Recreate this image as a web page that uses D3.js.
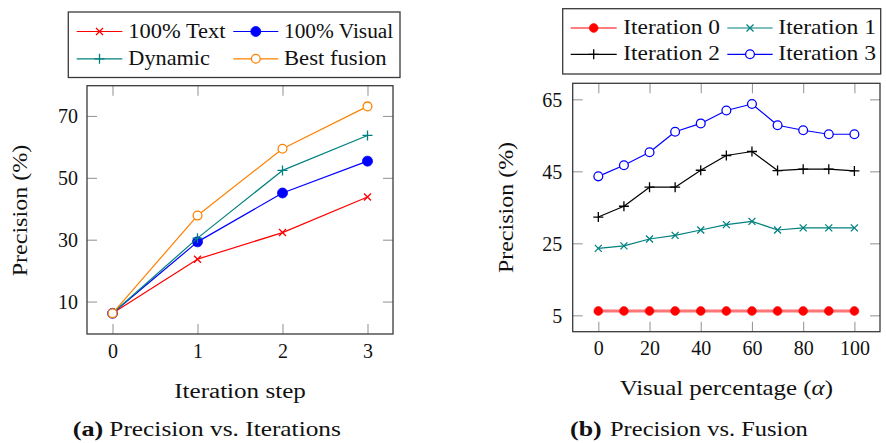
<!DOCTYPE html>
<html>
<head>
<meta charset="utf-8">
<script src="https://cdn.jsdelivr.net/npm/d3@7"></script>
<style>
  html, body { margin: 0; padding: 0; background: #fff; }
  svg { display: block; }
  text { font-family: "Liberation Serif", "Times New Roman", serif; fill: #111; }
</style>
</head>
<body>
<svg id="chart" width="886" height="443"></svg>
<script>
// ---------- DATA ----------
// (a) Precision vs. Iterations
const iterSteps = [0, 1, 2, 3];
const textOnly = [6.2, 23.7, 32.3, 43.8];
const visualOnly = [6.2, 29.3, 45.1, 55.4];
const dynamicFusion = [6.2, 30.5, 52.4, 63.7];
const bestFusion = [6.2, 37.8, 59.4, 73.1];
const leftXTicks = [0, 1, 2, 3];
const leftYTicks = [10, 30, 50, 70];
const leftSeriesNames = ["100% Text", "100% Visual", "Dynamic", "Best fusion"];

// (b) Precision vs. Fusion
const alphas = [0, 10, 20, 30, 40, 50, 60, 70, 80, 90, 100];
const iteration0 = [6.2, 6.2, 6.2, 6.2, 6.2, 6.2, 6.2, 6.2, 6.2, 6.2, 6.2];
const iteration1 = [23.6, 24.3, 26.2, 27.2, 28.7, 30.2, 31.1, 28.7, 29.3, 29.3, 29.3];
const iteration2 = [32.3, 35.3, 40.6, 40.6, 45.3, 49.4, 50.5, 45.2, 45.6, 45.6, 45.1];
const iteration3 = [43.6, 46.7, 50.3, 56.0, 58.3, 61.9, 63.7, 57.8, 56.4, 55.3, 55.3];
const rightXTicks = [0, 20, 40, 60, 80, 100];
const rightYTicks = [5, 25, 45, 65];
const rightSeriesNames = ["Iteration 0", "Iteration 1", "Iteration 2", "Iteration 3"];

// ---------- SETUP ----------
const svg = d3.select("#chart");
const FS = 20;
const TICK_COLOR = "#9a9a9a";
const FRAME_COLOR = "#3a3a3a";

function marker(g, type, color, x, y) {
  if (type === "x") {
    g.append("path").attr("transform", `translate(${x},${y})`)
      .attr("d", "M-3.5,-3.5L3.5,3.5M-3.5,3.5L3.5,-3.5")
      .attr("stroke", color).attr("stroke-width", 1.3).attr("fill", "none");
  } else if (type === "+") {
    g.append("path").attr("transform", `translate(${x},${y})`)
      .attr("d", "M-5,0H5M0,-5V5")
      .attr("stroke", color).attr("stroke-width", 1.3).attr("fill", "none");
  } else if (type === "dot") {
    g.append("circle").attr("cx", x).attr("cy", y).attr("r", 5)
      .attr("fill", color).attr("stroke", color).attr("stroke-width", 0.8);
  } else if (type === "smalldot") {
    g.append("circle").attr("cx", x).attr("cy", y).attr("r", 4.4)
      .attr("fill", color).attr("stroke", color).attr("stroke-width", 0.6);
  } else if (type === "o") {
    g.append("circle").attr("cx", x).attr("cy", y).attr("r", 4.4)
      .attr("fill", "#fff").attr("stroke", color).attr("stroke-width", 1.3);
  }
}

// Text fitted to a measured width (stretched horizontally)
function fitText(parent, str, x, y, width, opts = {}) {
  const t = parent.append("text")
    .attr("font-size", opts.size || FS)
    .attr("text-anchor", opts.anchor || "start");
  if (opts.weight) t.attr("font-weight", opts.weight);
  if (opts.parts) {
    opts.parts.forEach(p => {
      const ts = t.append("tspan").text(p.text);
      if (p.italic) ts.attr("font-style", "italic");
    });
  } else {
    t.text(str);
  }
  const nat = t.node().getComputedTextLength();
  const s = width / nat;
  const rot = opts.rotate ? ` rotate(${opts.rotate})` : "";
  t.attr("transform", `translate(${x},${y})${rot} scale(${s},1)`);
  return t;
}

function drawPanel(cfg) {
  const g = svg.append("g");
  const x = d3.scaleLinear().domain(cfg.xDomain).range(cfg.xRange);
  const y = d3.scaleLinear().domain(cfg.yDomain).range(cfg.yRange);
  const [x0, x1] = cfg.xRange;
  const [yb, yt] = cfg.yRange;

  // inner tick marks via axes
  const tickLen = 10;
  const axes = [
    [d3.axisBottom(x).tickValues(cfg.xTicks).tickSize(-tickLen).tickFormat(""), `translate(0,${yb})`],
    [d3.axisTop(x).tickValues(cfg.xTicks).tickSize(-tickLen).tickFormat(""), `translate(0,${yt})`],
    [d3.axisLeft(y).tickValues(cfg.yTicks).tickSize(-tickLen).tickFormat(""), `translate(${x0},0)`],
    [d3.axisRight(y).tickValues(cfg.yTicks).tickSize(-tickLen).tickFormat(""), `translate(${x1},0)`]
  ];
  axes.forEach(([ax, tr]) => {
    const a = g.append("g").attr("transform", tr).call(ax);
    a.select(".domain").remove();
    a.selectAll(".tick line").attr("stroke", TICK_COLOR).attr("stroke-width", 1.1);
  });

  // tick labels via axes
  const xl = g.append("g").attr("transform", `translate(0,${yb})`)
    .call(d3.axisBottom(x).tickValues(cfg.xTicks).tickSize(0).tickFormat(d3.format("d")));
  xl.select(".domain").remove();
  xl.selectAll("text").attr("y", cfg.xLabelOffset).attr("dy", null)
    .attr("font-size", FS).attr("font-family", "Liberation Serif").attr("fill", "#111");

  const yl = g.append("g").attr("transform", `translate(${x0},0)`)
    .call(d3.axisLeft(y).tickValues(cfg.yTicks).tickSize(0).tickFormat(d3.format("d")));
  yl.select(".domain").remove();
  yl.selectAll("text").attr("x", -cfg.yLabelGap).attr("dy", "0.34em")
    .attr("font-size", FS).attr("font-family", "Liberation Serif").attr("fill", "#111");

  // series
  const clip = "clip" + cfg.id;
  g.append("clipPath").attr("id", clip).append("rect")
    .attr("x", x0).attr("y", yt).attr("width", x1 - x0).attr("height", yb - yt);
  cfg.series.forEach(s => {
    const sg = g.append("g");
    const pts = cfg.xs.map((xv, i) => [x(xv), y(s.values[i])]);
    sg.append("path").attr("d", d3.line()(pts))
      .attr("fill", "none").attr("stroke", s.lineColor || s.color)
      .attr("stroke-width", s.lineWidth || 1.2)
      .attr("stroke-linejoin", "round");
    pts.forEach(p => marker(sg, s.marker, s.color, p[0], p[1]));
  });

  // frame
  g.append("rect").attr("x", x0).attr("y", yt).attr("width", x1 - x0).attr("height", yb - yt)
    .attr("fill", "none").attr("stroke", FRAME_COLOR).attr("stroke-width", 1.3);
  return { x, y };
}

// ---------- PANEL (a) ----------
const leftSeries = [
  { name: leftSeriesNames[0], values: textOnly, color: "#ff0000", marker: "x" },
  { name: leftSeriesNames[1], values: visualOnly, color: "#0000ff", marker: "dot" },
  { name: leftSeriesNames[2], values: dynamicFusion, color: "#008080", marker: "+" },
  { name: leftSeriesNames[3], values: bestFusion, color: "#ff8000", marker: "o" }
];
drawPanel({
  id: "a",
  xDomain: [-0.3, 3.3], xRange: [87, 393],
  yDomain: [-0.49, 79.79], yRange: [334, 85.7],
  xTicks: leftXTicks, yTicks: leftYTicks,
  xs: iterSteps, series: leftSeries,
  xLabelOffset: 24, yLabelGap: 9
});

// ---------- PANEL (b) ----------
const rightSeries = [
  { name: rightSeriesNames[0], values: iteration0, color: "#ff0000", lineColor: "#ff7575", lineWidth: 3, marker: "smalldot" },
  { name: rightSeriesNames[1], values: iteration1, color: "#008080", marker: "x" },
  { name: rightSeriesNames[2], values: iteration2, color: "#000000", marker: "+" },
  { name: rightSeriesNames[3], values: iteration3, color: "#0000ff", marker: "o" }
];
drawPanel({
  id: "b",
  xDomain: [-10, 110], xRange: [572.7, 880],
  yDomain: [0.45, 69.45], yRange: [331.7, 83.3],
  xTicks: rightXTicks, yTicks: rightYTicks,
  xs: alphas, series: rightSeries,
  xLabelOffset: 23.5, yLabelGap: 10.5
});

// ---------- AXIS TITLES ----------
fitText(svg, "Iteration step", 240, 398, 131.7, { anchor: "middle" });
fitText(svg, "Precision (%)", 27, 210.5, 131.7, { anchor: "middle", rotate: -90 });
fitText(svg, null, 726.3, 395, 213.4, { anchor: "middle",
  parts: [{ text: "Visual percentage (" }, { text: "α", italic: true }, { text: ")" }] });
fitText(svg, "Precision (%)", 513, 207.5, 131.3, { anchor: "middle", rotate: -90 });

// ---------- CAPTIONS ----------
fitText(svg, "(a)", 72.7, 436, 30.6, { weight: "bold" });
fitText(svg, "Precision vs. Iterations", 109.3, 436, 231.7);
fitText(svg, "(b)", 570, 436, 31.7, { weight: "bold" });
fitText(svg, "Precision vs. Fusion", 610, 436, 198);

// ---------- LEGENDS ----------
function legend(cfg) {
  const g = svg.append("g");
  g.append("rect").attr("x", cfg.box[0]).attr("y", cfg.box[1])
    .attr("width", cfg.box[2] - cfg.box[0]).attr("height", cfg.box[3] - cfg.box[1])
    .attr("fill", "#fff").attr("stroke", FRAME_COLOR).attr("stroke-width", 1.3);
  cfg.series.forEach((s, i) => {
    const col = i % 2, row = Math.floor(i / 2);
    const lx0 = cfg.lineX[col][0], lx1 = cfg.lineX[col][1];
    const cy = cfg.rowY[row];
    g.append("line").attr("x1", lx0).attr("x2", lx1).attr("y1", cy).attr("y2", cy)
      .attr("stroke", s.color).attr("stroke-width", 1.2);
    marker(g, s.marker, s.color, (lx0 + lx1) / 2, cy);
    fitText(g, s.name, cfg.textX[col], cy + 6, cfg.textW[i]);
  });
}
legend({
  box: [68.3, 12, 400, 77.5],
  series: leftSeries,
  lineX: [[76.7, 122.3], [233.3, 278.3]],
  rowY: [31.5, 58.8],
  textX: [128.3, 284],
  textW: [97.4, 109.3, 81.7, 102.7]
});
legend({
  box: [562.7, 8.7, 880.7, 74],
  series: rightSeries,
  lineX: [[570.7, 616.7], [727.3, 772.7]],
  rowY: [28, 54.3],
  textX: [623.3, 778.3],
  textW: [96.7, 97.7, 96.7, 97.7]
});
</script>
</body>
</html>
